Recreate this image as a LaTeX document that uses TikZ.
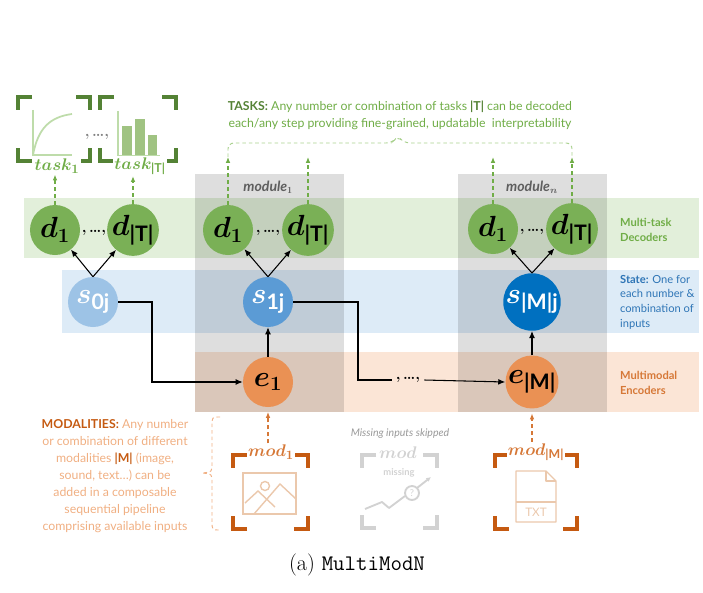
\documentclass[tikz,border=0pt]{standalone}
\usepackage{fontspec}
\usepackage{amsmath}
\usetikzlibrary{arrows.meta}
\usetikzlibrary{calc}
\newfontfamily\labfont{Lato}

\definecolor{bandgreen}{RGB}{226,239,218}
\definecolor{bandblue}{RGB}{221,235,247}
\definecolor{bandorange}{RGB}{251,229,214}
\definecolor{decgreen}{RGB}{122,176,86}
\definecolor{darkgreen}{RGB}{84,130,53}
\definecolor{midgreen}{RGB}{112,173,71}
\definecolor{palegreen}{RGB}{169,209,142}
\definecolor{icongreen}{RGB}{190,220,170}
\definecolor{bargreen}{RGB}{160,195,130}
\definecolor{stlight}{RGB}{157,195,230}
\definecolor{stmid}{RGB}{91,155,213}
\definecolor{stdark}{RGB}{0,112,192}
\definecolor{textblue}{RGB}{46,117,182}
\definecolor{encorange}{RGB}{234,145,84}
\definecolor{darkorange}{RGB}{197,90,17}
\definecolor{midorange}{RGB}{214,120,55}
\definecolor{paleorange}{RGB}{240,175,130}
\definecolor{iconorange}{RGB}{235,200,172}
\definecolor{missgrey}{RGB}{210,210,210}
\definecolor{modgrey}{RGB}{95,95,95}

\newcommand{\subsf}[1]{\text{\labfont\bfseries #1}}
\newcommand{\cornerbox}[5]{%
  \draw[cornerline,#1] (#2+14,#3) -- (#2,#3) -- (#2,#3+13);
  \draw[cornerline,#1] (#4-14,#3) -- (#4,#3) -- (#4,#3+13);
  \draw[cornerline,#1] (#2+14,#5) -- (#2,#5) -- (#2,#5-13);
  \draw[cornerline,#1] (#4-14,#5) -- (#4,#5) -- (#4,#5-13);
}

\tikzset{
  modcirc/.style={circle,minimum size=1.5cm,inner sep=0pt,font=\fontsize{26}{26}\selectfont\boldmath},
  dec/.style={modcirc,fill=decgreen},
  enc/.style={modcirc,fill=encorange},
  arr/.style={-{Latex[length=6pt,width=5pt]},line width=0.9pt},
  dasharr/.style={-{Latex[length=5pt,width=4pt]},line width=1.3pt,dash pattern=on 3.5pt off 2.5pt},
  cornerline/.style={line width=3.5pt},
  iconline/.style={line width=1.2pt,iconorange},
  missline/.style={line width=1.6pt,missgrey},
  bandlabel/.style={font=\labfont\bfseries\fontsize{9.5}{12.5}\selectfont,align=left,anchor=west},
  sepdots/.style={font=\fontsize{13}{13}\selectfont\bfseries},
  ilabel/.style={font=\fontsize{15}{15}\selectfont\boldmath},
  note/.style={font=\labfont\fontsize{10.5}{14.5}\selectfont,align=center},
}

\begin{document}
\begin{tikzpicture}[x=0.03cm,y=-0.03cm]
\useasboundingbox (0,0) rectangle (703,593);

% bands and modules
\fill[bandgreen] (24,198) rectangle (699,258);
\fill[bandblue] (62,270) rectangle (699,333);
\fill[bandorange] (195,352) rectangle (699,412);
\fill[black,fill opacity=0.13] (195,174) rectangle (344,412);
\fill[black,fill opacity=0.13] (458,174) rectangle (607,412);
\node[font=\labfont\bfseries\itshape\fontsize{12}{12}\selectfont,text=modgrey] (modA) at (268,187) {module$_{\mathbf 1}$};
\node[font=\labfont\bfseries\itshape\fontsize{12}{12}\selectfont,text=modgrey] (modB) at (532,187) {module$_{\boldsymbol n}$};

\node[bandlabel,text=midgreen] (labDec) at (616,230) {Multi-task\\Decoders};
\node[bandlabel,font=\labfont\fontsize{9.5}{12.5}\selectfont,text=textblue] (labState) at (616,302) {\textbf{State:} One for\\each number \&\\combination of\\inputs};
\node[bandlabel,text=midorange] (labEnc) at (616,383) {Multimodal\\Encoders};

% state 0
\node[dec] (dA1) at (55,230) {$d_1$};
\node[sepdots] (dotsA) at (94,233) {,\,\dots,};
\node[dec] (dAT) at (133,230) {$d_{\subsf{|T|}}$};
\node[modcirc,fill=stlight,text=white] (sA) at (93,302) {$s_{\subsf{0j}}$};

% module 1
\node[dec] (dB1) at (228,230) {$d_1$};
\node[sepdots] (dotsB) at (268,233) {,\,\dots,};
\node[dec] (dBT) at (308,230) {$d_{\subsf{|T|}}$};
\node[modcirc,fill=stmid,text=white] (sB) at (268,302) {$s_{\subsf{1j}}$};
\node[enc] (eB) at (268,382) {$e_1$};

% module n
\node[dec] (dC1) at (493,229) {$d_1$};
\node[sepdots] (dotsC) at (532,232) {,\,\dots,};
\node[dec] (dCT) at (572,229) {$d_{\subsf{|T|}}$};
\node[modcirc,fill=stdark,text=white] (sC) at (532,302) {$s_{\subsf{|M|j}}$};
\node[enc] (eC) at (532,382) {$e_{\subsf{|M|}}$};

\draw[arr] (sA.north) -- (dA1);
\draw[arr] (sA.north) -- (dAT);
\draw[arr] (sB.north) -- (dB1);
\draw[arr] (sB.north) -- (dBT);
\draw[arr] (sC.north) -- (dC1);
\draw[arr] (sC.north) -- (dCT);
\draw[arr] (eB) -- (sB);
\draw[arr] (eC) -- (sC);

\coordinate (kA) at (152,302);
\coordinate (kB) at (358,302);
\node[sepdots] (dotsE) at (408,380) {,\,\dots,};
\draw[arr] (sA.east) -- (kA) |- (eB.west);
\draw[line width=0.9pt] (sB.east) -- (kB) |- (dotsE.west);
\draw[arr] (dotsE.east) -- (eC.west);

% tasks
\cornerbox{darkgreen}{18}{97}{90}{161}
\cornerbox{darkgreen}{100}{97}{176}{161}
\draw[line width=1.5pt,icongreen] (33,110) -- (33,155) -- (72,155);
\draw[line width=1.5pt,icongreen] (33,155) .. controls (38,128) and (50,117) .. (72,114);
\draw[line width=1.5pt,icongreen] (118,111) -- (118,156) -- (160,156);
\fill[bargreen] (122,126) rectangle (132,155);
\fill[bargreen] (135,119) rectangle (145,155);
\fill[bargreen] (148,135) rectangle (157,155);
\node[sepdots,text=gray] (dotsT) at (97,137) {,\,\dots,};
\node[ilabel,text=midgreen,fill=white,inner sep=1pt] (tlA) at (57,166) {$task_1$};
\node[ilabel,text=midgreen,fill=white,inner sep=1pt] (tlB) at (140,166) {$task_{\subsf{|T|}}$};
\draw[dasharr,midgreen] (dA1.north) -- (dA1.north |- tlA.south);
\draw[dasharr,midgreen] (dAT.north) -- (dAT.north |- tlB.south);

\coordinate (tB1) at (228,157);
\coordinate (tB2) at (308,157);
\coordinate (tC1) at (493,157);
\coordinate (tC2) at (572,157);
\draw[dasharr,midgreen] (dB1.north) -- (tB1);
\draw[dasharr,midgreen] (dBT.north) -- (tB2);
\draw[dasharr,midgreen] (dC1.north) -- (tC1);
\draw[dasharr,midgreen] (dCT.north) -- (tC2);
\draw[palegreen,line width=0.8pt,dash pattern=on 3pt off 2.5pt,rounded corners=5pt] (tB1) -- (228,143) -- (392,143) -- (398,136) -- (404,143) -- (572,143) -- (tC2);
\node[note,text=midgreen] (tasks) at (400,115) {\textcolor{darkgreen}{\bfseries TASKS:} Any number or combination of tasks \textcolor{darkgreen}{\bfseries |T|} can be decoded\\each/any step providing fine-grained, updatable\ \ interpretability};

% modalities
\cornerbox{darkorange}{233}{455}{308}{529}
\draw[iconline] (243,473) rectangle (296,514);
\draw[iconline] (265,486) circle (4.5);
\draw[iconline] (245,503) -- (258,491) -- (275,507);
\draw[iconline] (254,514) -- (280,484) -- (296,499);
\node[ilabel,text=midorange,fill=white,inner sep=1pt] (ml1) at (271,452) {$mod_1$};
\draw[dasharr,midorange,shorten >=4pt] (eB.south |- ml1.north) -- (eB.south);

\cornerbox{missgrey}{362}{455}{437}{528}
\node[ilabel,text=missgrey,fill=white,inner sep=1pt] (mlx) at (398,453) {$mod$};
\node[font=\labfont\bfseries\fontsize{8}{8}\selectfont,text=missgrey] (mmiss) at (399,473) {missing};
\draw[missline,line join=round] (365,509) -- (382,502) -- (389,508) -- (405,496);
\draw[missline] (412,493) circle (7);
\node[font=\labfont\fontsize{8}{8}\selectfont,text=missgrey] (qm) at (412,493) {?};
\draw[missline,-{Latex[length=4pt,width=4pt]}] (417,488) -- (431,477);
\node[font=\labfont\itshape\fontsize{9}{9}\selectfont,text=gray!80] (skip) at (400,434) {Missing inputs skipped};

\cornerbox{darkorange}{495}{455}{577}{529}
\draw[iconline,line join=round] (516,471) -- (546,471) -- (556,481) -- (556,522) -- (516,522) -- cycle;
\draw[iconline,line join=round] (546,471) -- (546,481) -- (556,481);
\draw[iconline] (516,502) -- (556,502);
\node[font=\labfont\fontsize{10}{10}\selectfont,text=iconorange] (txt) at (536,512) {TXT};
\node[ilabel,text=midorange,fill=white,inner sep=1pt] (mlM) at (536,452) {$mod_{\subsf{|M|}}$};
\draw[dasharr,midorange,shorten >=4pt] (eC.south |- mlM.north) -- (eC.south);

\draw[paleorange,line width=0.8pt,dash pattern=on 3pt off 2.5pt] (220,417) .. controls (212,417) .. (212,426) -- (212,464) .. controls (212,472) .. (202,473) .. controls (212,474) .. (212,482) -- (212,521) .. controls (212,530) .. (220,530);
\node[note,text=paleorange] (mods) at (115,476) {\textcolor{darkorange}{\bfseries MODALITIES:} Any number\\or combination of different\\modalities \textcolor{darkorange}{\bfseries |M|} (image,\\sound, text\dots) can be\\added in a composable\\sequential pipeline\\comprising available inputs};

\node[font=\fontsize{19}{22}\selectfont] (caption) at (357,565) {(a) \texttt{MultiModN}};
\end{tikzpicture}
\end{document}
